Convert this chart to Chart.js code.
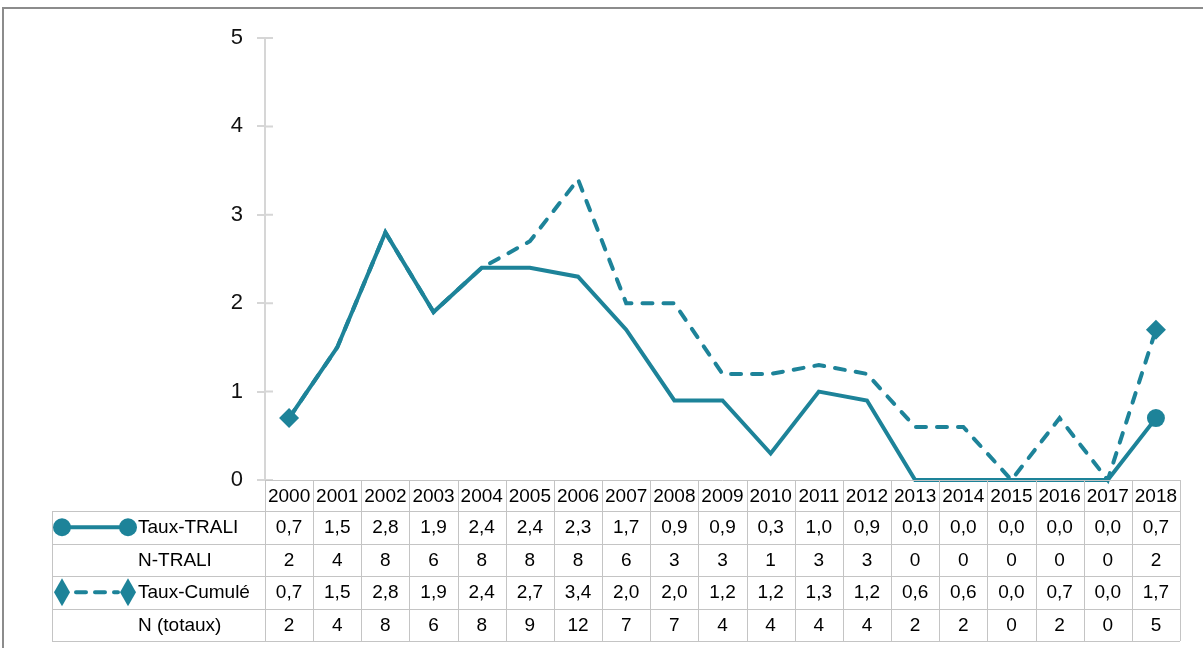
<!DOCTYPE html>
<html>
<head>
<meta charset="utf-8">
<script src="https://cdn.jsdelivr.net/npm/chart.js@4/dist/chart.umd.min.js"></script>
<style>
  html, body { margin: 0; padding: 0; background: #fff; }
  #wrap { width: 1203px; height: 648px; }
</style>
</head>
<body>
<div id="wrap"><canvas id="chart" width="1203" height="648"></canvas></div>
<script>
// data
const years = ["2000","2001","2002","2003","2004","2005","2006","2007","2008","2009","2010","2011","2012","2013","2014","2015","2016","2017","2018"];
const tauxTrali = [0.7, 1.5, 2.8, 1.9, 2.4, 2.4, 2.3, 1.7, 0.9, 0.9, 0.3, 1.0, 0.9, 0.0, 0.0, 0.0, 0.0, 0.0, 0.7];
const nTrali = [2, 4, 8, 6, 8, 8, 8, 6, 3, 3, 1, 3, 3, 0, 0, 0, 0, 0, 2];
const tauxCumule = [0.7, 1.5, 2.8, 1.9, 2.4, 2.7, 3.4, 2.0, 2.0, 1.2, 1.2, 1.3, 1.2, 0.6, 0.6, 0.0, 0.7, 0.0, 1.7];
const nTotaux = [2, 4, 8, 6, 8, 9, 12, 7, 7, 4, 4, 4, 4, 2, 2, 0, 2, 0, 5];
const rowNames = ["Taux-TRALI", "N-TRALI", "Taux-Cumulé", "N (totaux)"];

const teal = "#1d8399";
const gridGray = "#c4c4c4";
const axisGray = "#d6d6d6";
const font = "Liberation Sans, Arial, Helvetica, sans-serif";

function fmt(v) { return v.toFixed(1).replace(".", ","); }

// marker only on the last point (and first for the dashed one)
function markers(r, first) {
  let arr = new Array(years.length).fill(0);
  if (first) arr[0] = r;
  arr[arr.length - 1] = r;
  return arr;
}

const framePlugin = {
  id: "frame",
  beforeDraw(chart) {
    let ctx = chart.ctx;
    ctx.save();
    ctx.fillStyle = "#fff";
    ctx.fillRect(0, 0, chart.width, chart.height);
    ctx.strokeStyle = "#8c8c8c";
    ctx.lineWidth = 2;
    ctx.beginPath();
    ctx.moveTo(3, 648);
    ctx.lineTo(3, 8);
    ctx.lineTo(1203, 8);
    ctx.stroke();
    // inner half of the y tick marks
    let y = chart.scales.y;
    ctx.strokeStyle = axisGray;
    ctx.beginPath();
    y.ticks.forEach(t => {
      let py = y.getPixelForValue(t.value);
      ctx.moveTo(chart.chartArea.left, py);
      ctx.lineTo(chart.chartArea.left + 8, py);
    });
    ctx.stroke();
    ctx.restore();
  }
};

const tablePlugin = {
  id: "dataTable",
  afterDraw(chart) {
    let ctx = chart.ctx;
    let x = chart.scales.x;
    let area = chart.chartArea;
    let colW = (area.right - area.left) / years.length;
    let top = area.bottom;
    let headH = 31;
    let rowH = 32.5;
    let labelLeft = 52;
    let rows = [tauxTrali.map(fmt), nTrali.map(String), tauxCumule.map(fmt), nTotaux.map(String)];
    let bottom = top + headH + rowH * rows.length;

    ctx.save();
    ctx.strokeStyle = gridGray;
    ctx.lineWidth = 1;
    ctx.beginPath();
    ctx.moveTo(area.left, top + 0.5);
    ctx.lineTo(area.right, top + 0.5);
    for (let r = 0; r <= rows.length; r++) {
      let y = Math.round(top + headH + r * rowH) + 0.5;
      ctx.moveTo(labelLeft, y);
      ctx.lineTo(area.right, y);
    }
    for (let c = 0; c <= years.length; c++) {
      let xx = Math.round(area.left + c * colW) + 0.5;
      ctx.moveTo(xx, top);
      ctx.lineTo(xx, bottom);
    }
    ctx.moveTo(labelLeft + 0.5, top + headH);
    ctx.lineTo(labelLeft + 0.5, bottom);
    ctx.stroke();

    ctx.fillStyle = "#000";
    ctx.font = "19px " + font;
    ctx.textBaseline = "middle";
    ctx.textAlign = "center";
    for (let c = 0; c < years.length; c++) {
      let cx = x.getPixelForValue(c);
      ctx.fillText(years[c], cx, top + headH / 2 + 1);
      for (let r = 0; r < rows.length; r++) {
        ctx.fillText(rows[r][c], cx, top + headH + r * rowH + rowH / 2 + 1);
      }
    }
    ctx.textAlign = "left";
    for (let r = 0; r < rowNames.length; r++) {
      ctx.fillText(rowNames[r], 138, top + headH + r * rowH + rowH / 2 + 1);
    }

    // legend keys inside the table
    ctx.fillStyle = teal;
    ctx.strokeStyle = teal;
    ctx.lineWidth = 4;
    let y1 = top + headH + rowH / 2;
    ctx.beginPath();
    ctx.moveTo(62, y1);
    ctx.lineTo(128, y1);
    ctx.stroke();
    [62, 128].forEach(cx => {
      ctx.beginPath();
      ctx.arc(cx, y1, 9, 0, Math.PI * 2);
      ctx.fill();
    });
    let y3 = top + headH + 2 * rowH + rowH / 2;
    ctx.setLineDash([10, 9]);
    ctx.lineCap = "round";
    ctx.beginPath();
    ctx.moveTo(76, y3);
    ctx.lineTo(118, y3);
    ctx.stroke();
    ctx.setLineDash([]);
    [62, 128].forEach(cx => {
      ctx.beginPath();
      ctx.moveTo(cx, y3 - 14);
      ctx.lineTo(cx + 8, y3);
      ctx.lineTo(cx, y3 + 14);
      ctx.lineTo(cx - 8, y3);
      ctx.closePath();
      ctx.fill();
    });
    ctx.restore();
  }
};

new Chart(document.getElementById("chart"), {
  type: "line",
  data: {
    labels: years,
    datasets: [
      {
        label: "Taux-TRALI",
        data: tauxTrali,
        borderColor: teal,
        backgroundColor: teal,
        borderWidth: 4,
        tension: 0,
        fill: false,
        pointStyle: "circle",
        pointRadius: markers(9, false),
        pointHoverRadius: 0,
        pointBorderWidth: 0,
        clip: false,
        order: 2
      },
      {
        label: "Taux-Cumulé",
        data: tauxCumule,
        borderColor: teal,
        backgroundColor: teal,
        borderWidth: 4,
        borderDash: [10, 11],
        borderCapStyle: "round",
        tension: 0,
        fill: false,
        pointStyle: "rectRot",
        pointRadius: markers(10, true),
        pointHoverRadius: 0,
        pointBorderWidth: 0,
        clip: false,
        order: 1
      }
    ]
  },
  options: {
    responsive: false,
    animation: false,
    events: [],
    layout: { padding: { left: 0, right: 23, top: 38, bottom: 168 } },
    plugins: {
      legend: { display: false },
      tooltip: { enabled: false }
    },
    scales: {
      x: {
        type: "category",
        display: false,
        offset: true
      },
      y: {
        min: 0,
        max: 5,
        afterFit(scale) { scale.width = 265; },
        ticks: {
          stepSize: 1,
          padding: 14,
          color: "#111",
          font: { family: font, size: 22 }
        },
        grid: {
          drawOnChartArea: false,
          drawTicks: true,
          tickLength: 8,
          color: axisGray,
          lineWidth: 2
        },
        border: { display: true, color: axisGray, width: 2 }
      }
    }
  },
  plugins: [framePlugin, tablePlugin]
});
</script>
</body>
</html>
